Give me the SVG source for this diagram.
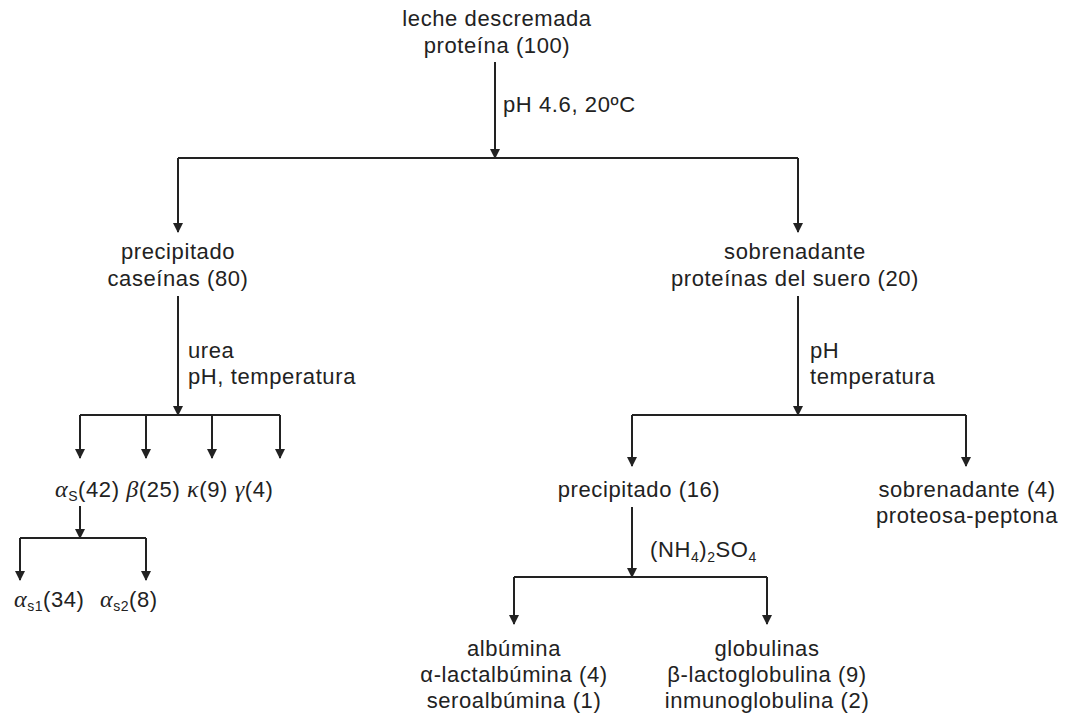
<svg xmlns="http://www.w3.org/2000/svg" width="1077" height="717" viewBox="0 0 1077 717">
<style>
text{font-family:"Liberation Sans",Arial,sans-serif;font-size:22px;letter-spacing:0.6px;fill:#222}
.c{text-anchor:middle}
.g{font-family:"Liberation Serif","Times New Roman",serif;font-style:italic;font-size:24px}
.sub{font-size:14px;letter-spacing:0.5px}
.ln{stroke:#222;stroke-width:2;fill:none}
</style>
<defs>
<marker id="ah" viewBox="0 0 10 10" refX="9" refY="5" markerWidth="5" markerHeight="5" orient="auto" markerUnits="strokeWidth">
<path d="M0,0 L10,5 L0,10 z" fill="#222"/>
</marker>
</defs>
<rect width="1077" height="717" fill="#fff"/>
<g id="connectors" class="ln">
<path d="M495,62 V158" marker-end="url(#ah)"/>
<path d="M178,158 H798"/>
<path d="M178,158 V232" marker-end="url(#ah)"/>
<path d="M798,158 V232" marker-end="url(#ah)"/>
<path d="M178,296 V415" marker-end="url(#ah)"/>
<path d="M80,415 H280"/>
<path d="M80,415 V458" marker-end="url(#ah)"/>
<path d="M146,415 V458" marker-end="url(#ah)"/>
<path d="M212,415 V458" marker-end="url(#ah)"/>
<path d="M280,415 V458" marker-end="url(#ah)"/>
<path d="M80,506 V538" marker-end="url(#ah)"/>
<path d="M20,538 H146"/>
<path d="M20,538 V580" marker-end="url(#ah)"/>
<path d="M146,538 V580" marker-end="url(#ah)"/>
<path d="M798,296 V415" marker-end="url(#ah)"/>
<path d="M632,415 H966"/>
<path d="M632,415 V466" marker-end="url(#ah)"/>
<path d="M966,415 V466" marker-end="url(#ah)"/>
<path d="M632,507 V577" marker-end="url(#ah)"/>
<path d="M514,577 H767"/>
<path d="M514,577 V624" marker-end="url(#ah)"/>
<path d="M767,577 V624" marker-end="url(#ah)"/>
</g>
<g id="labels">
<text x="503" y="112">pH 4.6, 20ºC</text>
<text x="188" y="358">urea</text>
<text x="188" y="384">pH, temperatura</text>
<text x="810" y="358">pH</text>
<text x="810" y="384">temperatura</text>
<text x="650" y="557">(NH<tspan class="sub" dy="5">4</tspan><tspan dy="-5">)</tspan><tspan class="sub" dy="5">2</tspan><tspan dy="-5">SO</tspan><tspan class="sub" dy="5">4</tspan></text>
</g>
<g id="n_leche"><text class="c" x="497" y="26">leche descremada</text><text class="c" x="497" y="53">proteína (100)</text></g>
<g id="n_precip"><text class="c" x="178" y="259">precipitado</text><text class="c" x="178" y="286">caseínas (80)</text></g>
<g id="n_sobren"><text class="c" x="795" y="259">sobrenadante</text><text class="c" x="795" y="286">proteínas del suero (20)</text></g>
<g id="n_caseins"><text x="55" y="497"><tspan class="g">α</tspan><tspan class="sub" dy="4">S</tspan><tspan dy="-4">(42) </tspan><tspan class="g">β</tspan>(25) <tspan class="g">κ</tspan>(9) <tspan class="g">γ</tspan>(4)</text></g>
<g id="n_as"><text x="14" y="607"><tspan class="g">α</tspan><tspan class="sub" dy="4">s1</tspan><tspan dy="-4">(34)</tspan><tspan class="g" x="100">α</tspan><tspan class="sub" dy="4">s2</tspan><tspan dy="-4">(8)</tspan></text></g>
<g id="n_precip16"><text class="c" x="639" y="497">precipitado (16)</text></g>
<g id="n_sobren4"><text class="c" x="967" y="497">sobrenadante (4)</text><text class="c" x="967" y="523">proteosa-peptona</text></g>
<g id="n_albumina"><text class="c" x="514" y="656">albúmina</text><text class="c" x="514" y="682">α-lactalbúmina (4)</text><text class="c" x="514" y="708">seroalbúmina (1)</text></g>
<g id="n_globulinas"><text class="c" x="767" y="656">globulinas</text><text class="c" x="767" y="682">β-lactoglobulina (9)</text><text class="c" x="767" y="708">inmunoglobulina (2)</text></g>
</svg>
